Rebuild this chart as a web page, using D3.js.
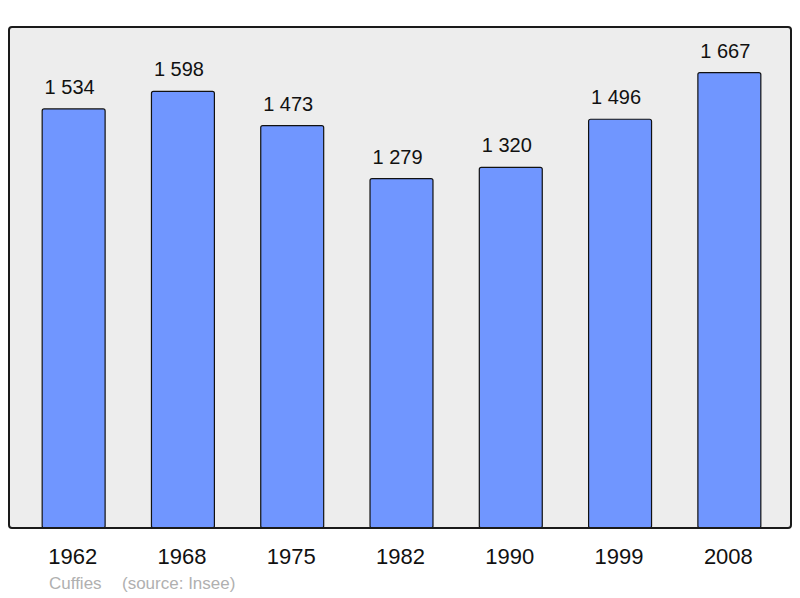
<!DOCTYPE html>
<html>
<head>
<meta charset="utf-8">
<script src="https://cdn.jsdelivr.net/npm/d3@7"></script>
<style>
  body { margin: 0; background: #fff; }
  text { font-family: "Liberation Sans", Arial, sans-serif; }
</style>
</head>
<body>
<script>
// population per census year
let years = ["1962", "1968", "1975", "1982", "1990", "1999", "2008"];
let population = [1534, 1598, 1473, 1279, 1320, 1496, 1667];
let townName = "Cuffies";
let sourceText = "(source: Insee)";

let svg = d3.select("body").append("svg")
	.attr("width", 800)
	.attr("height", 598);

let frame = { left: 9, top: 27, right: 791, bottom: 528 };

let data = years.map((y, i) => ({ year: y, value: population[i] }));

let x = d3.scaleBand()
	.domain(years)
	.range([19, 784])
	.paddingInner(0.424)
	.paddingOuter(0.212);

let y = d3.scaleLinear()
	.domain([0, d3.max(population) * 1.1])
	.range([frame.bottom, frame.top]);

// background panel
svg.append("rect")
	.attr("x", frame.left)
	.attr("y", frame.top)
	.attr("width", frame.right - frame.left)
	.attr("height", frame.bottom - frame.top)
	.attr("rx", 3)
	.attr("fill", "#ededed");

// bars (bottom edge hidden under the frame line)
svg.selectAll(".bar")
	.data(data)
	.enter().append("rect")
	.attr("class", "bar")
	.attr("x", d => x(d.year))
	.attr("y", d => y(d.value))
	.attr("width", x.bandwidth())
	.attr("height", d => y(0) - y(d.value))
	.attr("rx", 2)
	.attr("fill", "#7096ff")
	.attr("stroke", "#111")
	.attr("stroke-width", 1.2);

// frame border on top of bars
svg.append("rect")
	.attr("x", frame.left)
	.attr("y", frame.top)
	.attr("width", frame.right - frame.left)
	.attr("height", frame.bottom - frame.top)
	.attr("rx", 3)
	.attr("fill", "none")
	.attr("stroke", "#1a1a1a")
	.attr("stroke-width", 2);

let fmt = v => d3.format(",")(v).replace(",", " ");

// value labels
svg.selectAll(".val")
	.data(data)
	.enter().append("text")
	.attr("class", "val")
	.attr("x", d => x(d.year) + x.bandwidth() / 2 - 4)
	.attr("y", d => y(d.value) - 15)
	.attr("text-anchor", "middle")
	.attr("font-size", 20)
	.attr("fill", "#111")
	.text(d => fmt(d.value));

// year axis labels
let xAxis = d3.axisBottom(x).tickSize(0).tickPadding(0);
let axisG = svg.append("g")
	.attr("transform", `translate(-1, ${frame.bottom})`)
	.call(xAxis);
axisG.select(".domain").remove();
axisG.selectAll("text")
	.attr("y", 36)
	.attr("dy", null)
	.attr("font-size", 22)
	.attr("font-family", "Liberation Sans, Arial, sans-serif")
	.attr("fill", "#111");

// source line
svg.append("text")
	.attr("x", 49)
	.attr("y", 589)
	.attr("font-size", 17)
	.attr("fill", "#b0b0b0")
	.text(townName);

svg.append("text")
	.attr("x", 122)
	.attr("y", 589)
	.attr("font-size", 17)
	.attr("fill", "#b0b0b0")
	.text(sourceText);
</script>
</body>
</html>
